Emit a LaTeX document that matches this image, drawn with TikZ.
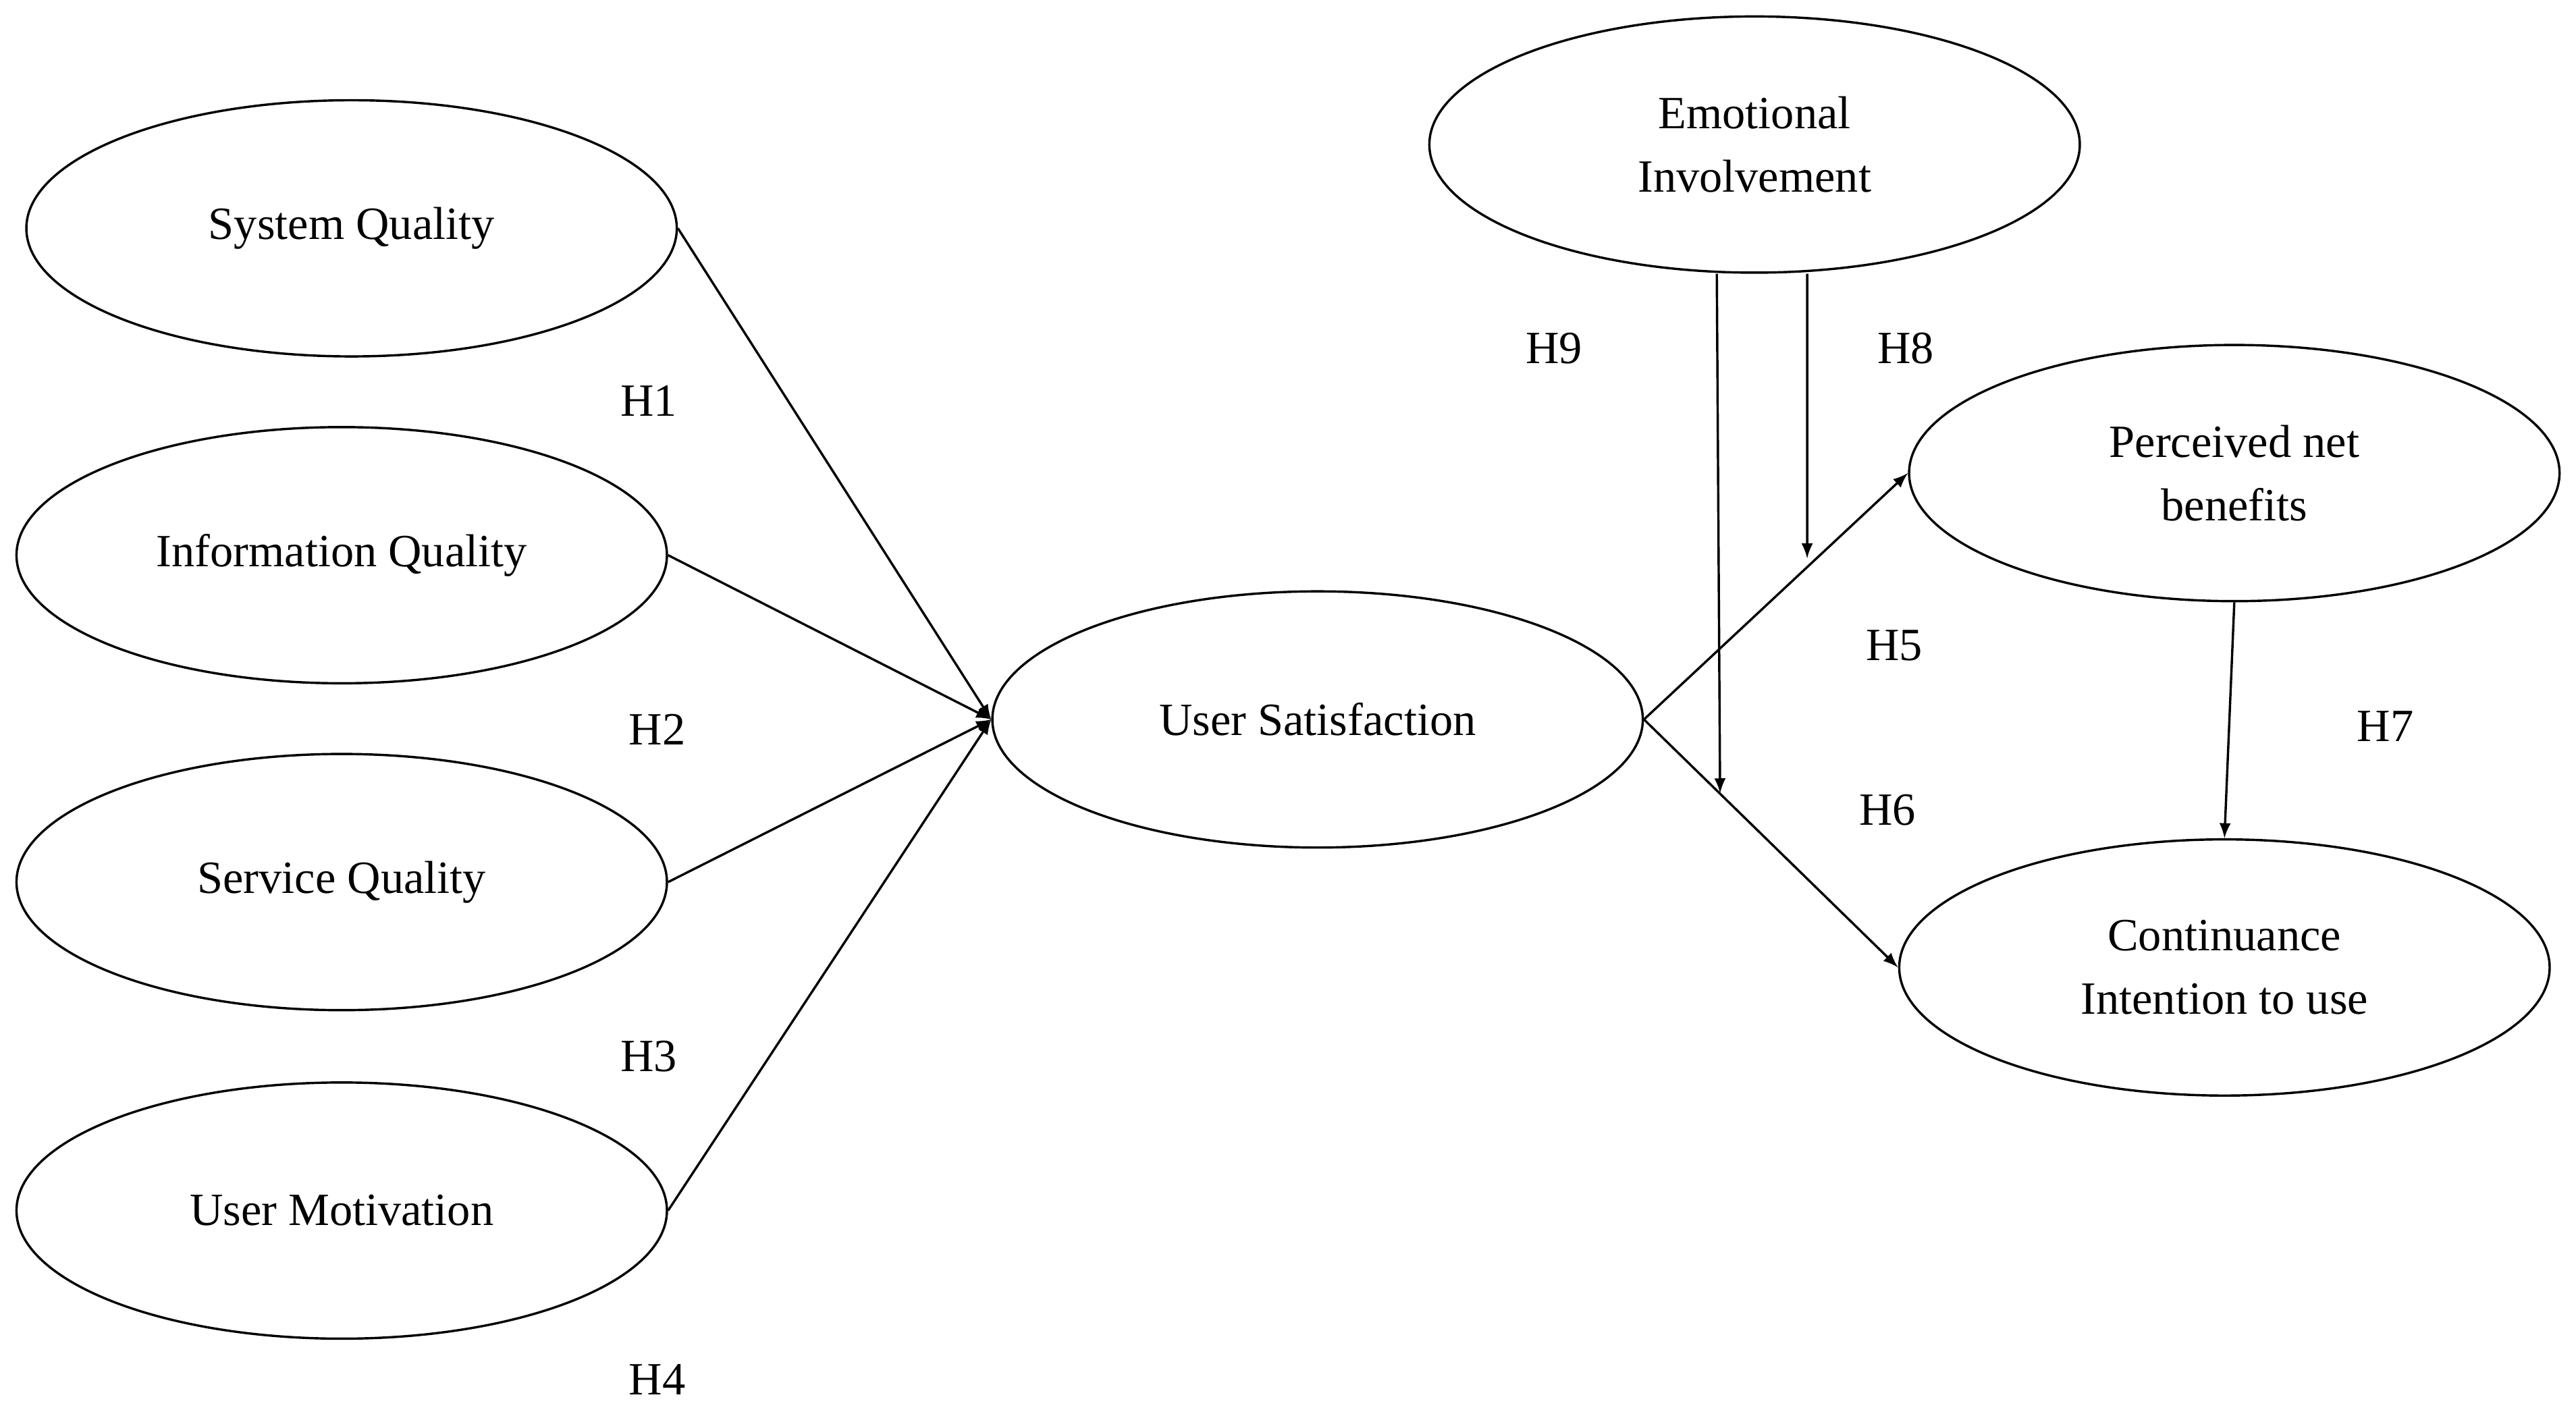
\documentclass[tikz,border=0pt]{standalone}
\usepackage{fontspec}
\setmainfont{Liberation Serif}
\usetikzlibrary{arrows,shapes.geometric}

\begin{document}
\begin{tikzpicture}[x=0.02cm,y=-0.02cm,->,>=latex,thick,
  every node/.style={font=\fontsize{16}{22}\selectfont},
  construct/.style={ellipse,draw,thick,-,minimum width=7.92cm,minimum height=3.12cm,align=center}]
\useasboundingbox (0,0) rectangle (1568,862);

\foreach \name/\text/\x/\y in {sq/System Quality/214/139, iq/Information Quality/208/338, svq/Service Quality/208/537, um/User Motivation/208/737, us/User Satisfaction/802/438, ei/Emotional\\Involvement/1068/88, pnb/Perceived net\\benefits/1360/288, cit/Continuance\\Intention to use/1354/589}
\node[construct](\name) at (\x,\y) {\text};

\foreach \name/\x/\y in {1/395/244, 2/400/444, 3/395/643, 4/400/840, 5/1153/393, 6/1149/493, 7/1452/442, 8/1160/212, 9/946/212}
\node (h\name) at (\x,\y) {H\name};

\coordinate (h9end) at (1047,483);
\coordinate (h8end) at (1100,340);

\path
	(sq.east) edge (us.west)
	(iq.east) edge (us.west)
	(svq.east) edge (us.west)
	(um.east) edge (us.west)
	(us.east) edge (pnb.west)
	          edge (cit.west)
	(pnb.south) edge (cit.north)
	([xshift=-0.46cm]ei.south) edge (h9end)
	([xshift=0.64cm]ei.south) edge (h8end)
	;

\end{tikzpicture}
\end{document}
